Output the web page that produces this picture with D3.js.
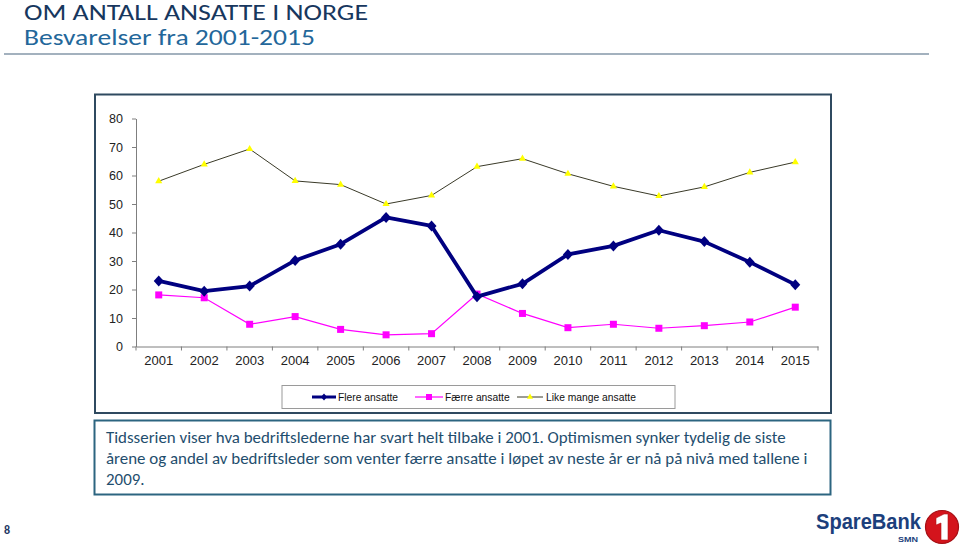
<!DOCTYPE html>
<html>
<head>
<meta charset="utf-8">
<script src="https://cdn.jsdelivr.net/npm/d3@7"></script>
<style>
  html, body { margin: 0; padding: 0; background: #fff; }
  svg { display: block; }
</style>
</head>
<body>
<svg id="chart" width="960" height="548"></svg>
<script>
// ---------- DATA ----------
const years = ["2001","2002","2003","2004","2005","2006","2007","2008","2009","2010","2011","2012","2013","2014","2015"];
const flereAnsatte = [23, 19.4, 21.2, 30.2, 35.9, 45.3, 42.3, 17.5, 22, 32.3, 35.3, 40.8, 36.8, 29.6, 21.7];
const faerreAnsatte = [18.1, 17.1, 7.8, 10.5, 6, 4.1, 4.5, 18.4, 11.6, 6.6, 7.8, 6.4, 7.3, 8.6, 13.8];
const likeMangeAnsatte = [58, 63.9, 69.3, 58.1, 56.8, 50, 53, 63.1, 65.9, 60.6, 56.2, 52.8, 56, 61.1, 64.7];
const yTicks = [0, 10, 20, 30, 40, 50, 60, 70, 80];
const seriesNames = ["Flere ansatte", "Færre ansatte", "Like mange ansatte"];
const titleLine1 = "OM ANTALL ANSATTE I NORGE";
const titleLine2 = "Besvarelser fra 2001-2015";
const bodyLines = [
  "Tidsserien viser hva bedriftslederne har svart helt tilbake i 2001. Optimismen synker tydelig de siste",
  "årene og andel av bedriftsleder som venter færre ansatte i løpet av neste år er nå på nivå med tallene i",
  "2009."
];
const pageNumber = "8";

// ---------- DRAW ----------
const svg = d3.select("#chart");
const sans = "'Liberation Sans', Arial, sans-serif";
const calibri = "Carlito, Calibri, Lato, 'Open Sans', sans-serif";

// fit font size so text width matches target
function fitText(sel, target) {
  const node = sel.node();
  let fs = parseFloat(sel.attr("font-size"));
  const w = node.getComputedTextLength();
  if (w > 0) { fs = fs * target / w; sel.attr("font-size", fs); }
  return fs;
}

// Title
svg.append("text").attr("x", 24).attr("y", 20).attr("font-family", calibri)
  .attr("font-size", 22).attr("fill", "#17375e")
  .attr("textLength", 344).attr("lengthAdjust", "spacingAndGlyphs").text(titleLine1);
svg.append("text").attr("x", 24).attr("y", 45).attr("font-family", calibri)
  .attr("font-size", 22).attr("fill", "#23679a")
  .attr("textLength", 291).attr("lengthAdjust", "spacingAndGlyphs").text(titleLine2);
svg.append("line").attr("x1", 4).attr("x2", 929).attr("y1", 54).attr("y2", 54)
  .attr("stroke", "#8497a8").attr("stroke-width", 1.5);

// Chart box
svg.append("rect").attr("x", 95).attr("y", 94.5).attr("width", 736).attr("height", 318.5)
  .attr("fill", "#fff").attr("stroke", "#2f4a60").attr("stroke-width", 2);

const x = d3.scaleBand().domain(years).range([136, 818]);
const y = d3.scaleLinear().domain([0, 80]).range([346.5, 118.5]);
const cx = d => x(d) + x.bandwidth() / 2;

// Y axis
const yAxis = svg.append("g").attr("transform", "translate(136,0)")
  .call(d3.axisLeft(y).tickValues(yTicks).tickSize(4).tickPadding(9).tickSizeOuter(0));
yAxis.select(".domain").attr("stroke", "#7f7f7f");
yAxis.selectAll(".tick line").attr("stroke", "#7f7f7f");
yAxis.selectAll("text").attr("font-family", sans).attr("font-size", 12.5).attr("fill", "#222");

// X axis
const xAxis = svg.append("g").attr("transform", "translate(0,346.5)")
  .call(d3.axisBottom(x).tickSize(0).tickPadding(9).tickSizeOuter(0));
xAxis.select(".domain").attr("stroke", "#7f7f7f");
xAxis.selectAll("text").attr("font-family", sans).attr("font-size", 13).attr("fill", "#222");
const boundaries = years.map(d => x(d)).concat([x.range()[1]]);
svg.append("g").selectAll("line").data(boundaries).join("line")
  .attr("x1", d => d).attr("x2", d => d).attr("y1", 346.5).attr("y2", 350.5)
  .attr("stroke", "#7f7f7f");

const line = d3.line().x((d, i) => cx(years[i])).y(d => y(d));

// Like mange ansatte
svg.append("path").datum(likeMangeAnsatte).attr("d", line).attr("fill", "none")
  .attr("stroke", "#3a3a28").attr("stroke-width", 1);
const tri = d3.symbol().type(d3.symbolTriangle).size(22);
svg.append("g").selectAll("path").data(likeMangeAnsatte).join("path")
  .attr("d", tri).attr("transform", (d, i) => `translate(${cx(years[i])},${y(d)})`)
  .attr("fill", "#ffff00");

// Færre ansatte
svg.append("path").datum(faerreAnsatte).attr("d", line).attr("fill", "none")
  .attr("stroke", "#ff00ff").attr("stroke-width", 1.2);
svg.append("g").selectAll("rect").data(faerreAnsatte).join("rect")
  .attr("x", (d, i) => cx(years[i]) - 3.5).attr("y", d => y(d) - 3.5)
  .attr("width", 7).attr("height", 7).attr("fill", "#ff00ff");

// Flere ansatte
svg.append("path").datum(flereAnsatte).attr("d", line).attr("fill", "none")
  .attr("stroke", "#000080").attr("stroke-width", 3.8).attr("stroke-linejoin", "round");
svg.append("g").selectAll("path").data(flereAnsatte).join("path")
  .attr("d", "M0,-5.5L5,0L0,5.5L-5,0Z")
  .attr("transform", (d, i) => `translate(${cx(years[i])},${y(d)})`)
  .attr("fill", "#000080");

// Legend
svg.append("rect").attr("x", 282).attr("y", 385.5).attr("width", 393).attr("height", 23)
  .attr("fill", "#fff").attr("stroke", "#9a9a9a").attr("stroke-width", 1);
const legY = 397;
const leg = svg.append("g");
// Flere
leg.append("line").attr("x1", 312).attr("x2", 336).attr("y1", legY).attr("y2", legY)
  .attr("stroke", "#000080").attr("stroke-width", 3);
leg.append("path").attr("d", "M0,-3.5L3,0L0,3.5L-3,0Z").attr("transform", `translate(324,${legY})`).attr("fill", "#000080");
leg.append("text").attr("x", 338).attr("y", legY + 3.6).text(seriesNames[0]);
// Færre
leg.append("line").attr("x1", 415).attr("x2", 443).attr("y1", legY).attr("y2", legY)
  .attr("stroke", "#ff00ff").attr("stroke-width", 1.2);
leg.append("rect").attr("x", 426).attr("y", legY - 3).attr("width", 6).attr("height", 6).attr("fill", "#ff00ff");
leg.append("text").attr("x", 445).attr("y", legY + 3.6).text(seriesNames[1]);
// Like mange
leg.append("line").attr("x1", 517).attr("x2", 543).attr("y1", legY).attr("y2", legY)
  .attr("stroke", "#3a3a28").attr("stroke-width", 1);
leg.append("path").attr("d", d3.symbol().type(d3.symbolTriangle).size(16)).attr("transform", `translate(530,${legY})`).attr("fill", "#ffff00");
leg.append("text").attr("x", 546).attr("y", legY + 3.6).text(seriesNames[2]);
leg.selectAll("text").attr("font-family", sans).attr("font-size", 10.3).attr("fill", "#111");

// Text box
svg.append("rect").attr("x", 94.5).attr("y", 420.5).attr("width", 736).attr("height", 74)
  .attr("fill", "#fff").attr("stroke", "#2c6580").attr("stroke-width", 2);
const bodyG = svg.append("g");
const bl = bodyG.selectAll("text").data(bodyLines).join("text")
  .attr("x", 106).attr("y", (d, i) => 443 + i * 21)
  .attr("font-family", calibri).attr("font-size", 15).attr("fill", "#1f4e6e").text(d => d);
const fs = fitText(d3.select(bl.nodes()[1]), 702);
bl.attr("font-size", fs);

// Page number
svg.append("text").attr("x", 4).attr("y", 534).attr("font-family", calibri)
  .attr("font-size", 12).attr("font-weight", "bold").attr("fill", "#1f3864").text(pageNumber);

// Logo
const logo = svg.append("g");
logo.append("text").attr("x", 816).attr("y", 528.5).attr("font-family", sans)
  .attr("font-weight", "bold").attr("font-size", 22).attr("fill", "#1c3f7c")
  .attr("textLength", 105).attr("lengthAdjust", "spacingAndGlyphs").text("SpareBank");
logo.append("text").attr("x", 898).attr("y", 541.5).attr("font-family", sans)
  .attr("font-weight", "bold").attr("font-size", 8).attr("fill", "#1c3f7c")
  .attr("textLength", 20).attr("lengthAdjust", "spacingAndGlyphs").text("SMN");
logo.append("circle").attr("cx", 942).attr("cy", 527).attr("r", 16.5)
  .attr("fill", "#d4141c").attr("stroke", "#a50f14").attr("stroke-width", 1.2);
logo.append("path").attr("d", "M936,518 L944,514 L948,514 L948,540 L941,540 L941,523 L936,525 Z")
  .attr("fill", "#fff").attr("stroke", "#b01016").attr("stroke-width", 0.6);
</script>
</body>
</html>
